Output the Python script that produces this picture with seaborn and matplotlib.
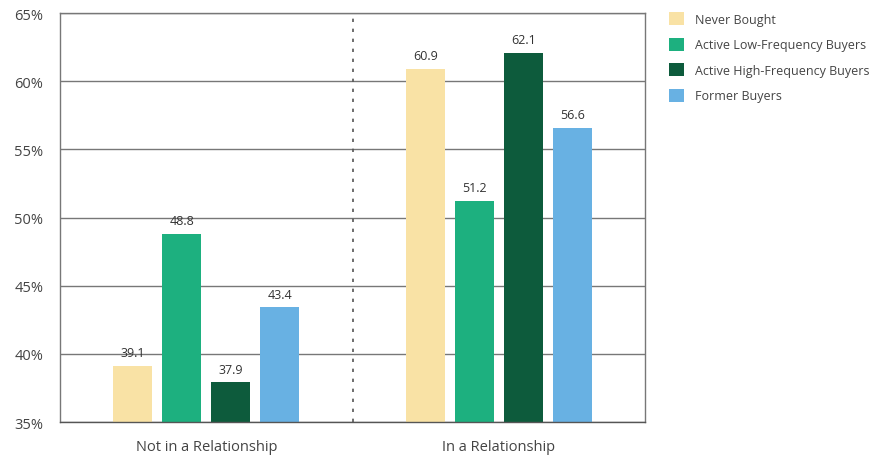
import matplotlib
matplotlib.use("Agg")
import matplotlib.pyplot as plt
import seaborn as sns
import pandas as pd
from matplotlib.patches import Patch

groups = ["Not in a Relationship", "In a Relationship"]
series = ["Never Bought", "Active Low-Frequency Buyers", "Active High-Frequency Buyers", "Former Buyers"]
never_bought = [39.1, 60.9]
active_low = [48.8, 51.2]
active_high = [37.9, 62.1]
former = [43.4, 56.6]
colors = ["#F9E2A5", "#1DB07F", "#0D5B3C", "#68B1E3"]
yticks = [35, 40, 45, 50, 55, 60, 65]

rows = []
for s, vals in zip(series, [never_bought, active_low, active_high, former]):
    for g, v in zip(groups, vals):
        rows.append({"group": g, "series": s, "value": v})
df = pd.DataFrame(rows)

sns.set_theme(style="white")
plt.rcParams["font.family"] = ["Open Sans", "DejaVu Sans"]

fig = plt.figure(figsize=(8.79, 4.56), dpi=100)
ax = fig.add_axes([60 / 879, 1 - 423 / 456, 585 / 879, 409 / 456])

sns.barplot(data=df, x="group", y="value", hue="series", order=groups, hue_order=series,
            palette=colors, width=0.67, gap=0.2, ax=ax, legend=False, saturation=1,
            linewidth=0, edgecolor="none")

for c in ax.containers:
    ax.bar_label(c, labels=[f"{v:.1f}" for v in c.datavalues], padding=5, fontsize=9, color="#333333")

ax.set_ylim(35, 65)
ax.set_xlim(-0.5, 1.5)
ax.set_yticks(yticks)
ax.set_yticklabels([f"{t}%" for t in yticks])
ax.yaxis.grid(True, color="#777777", linewidth=1)
ax.set_axisbelow(True)
ax.axvline(0.5, color="#555555", linestyle=(0, (2, 4)), linewidth=1.2)
ax.set_xlabel("")
ax.set_ylabel("")
for sp in ax.spines.values():
    sp.set_color("#777777")
    sp.set_linewidth(1)
ax.spines["bottom"].set_color("#555555")
ax.tick_params(axis="both", labelsize=10.5, colors="#444444", length=0)
ax.tick_params(axis="y", pad=12)
ax.tick_params(axis="x", pad=12)

handles = [Patch(facecolor=c, edgecolor="none") for c in colors]
fig.legend(handles, series, loc="upper left", bbox_to_anchor=(658 / 879, 1 - 2 / 456),
           frameon=False, fontsize=9, handlelength=1.2, handleheight=1.2,
           labelspacing=0.95, handletextpad=0.9, labelcolor="#444444")

fig.savefig("out.png", dpi=100)
